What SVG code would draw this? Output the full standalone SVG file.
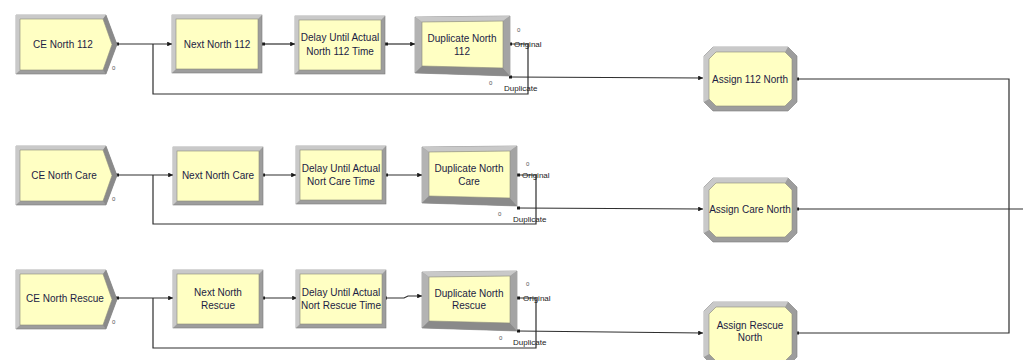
<svg xmlns="http://www.w3.org/2000/svg" xmlns:xlink="http://www.w3.org/1999/xlink" width="1023" height="360" viewBox="0 0 1023 360">
<style>
.t{font-family:"Liberation Sans",Arial,sans-serif;font-size:10px;fill:#1c1c44;text-anchor:middle}
.s{font-family:"Liberation Sans",Arial,sans-serif;font-size:8px;fill:#222}
.c{font-family:"Liberation Sans",Arial,sans-serif;font-size:6px;fill:#555}
.ln{fill:none;stroke:#2e2e2e;stroke-width:1.2}
.pt{fill:#1a1a1a}
.fr{fill:#9d9d9d;stroke:#7c7c7c;stroke-width:0.6}
.lt{fill:#c9c9c9}
.dk{fill:#8a8a8a}
.in{fill:#ffffc3;stroke:#8a8a7a;stroke-width:0.6}
</style>
<defs>
<marker id="ar" viewBox="0 0 6 6" refX="6" refY="3" markerWidth="4" markerHeight="4" orient="auto">
<path d="M0,0 L6,3 L0,6 z" fill="#1a1a1a"/>
</marker>
<g id="create">
<polygon class="fr" points="0,0 90,0 101,29.5 90,59 0,59"/>
<polygon class="lt" points="0,0 90,0 87,4 4,4 4,55 0,59"/>
<polygon class="dk" points="90,0 101,29.5 90,59 87,55 96,29.5 87,4"/>
<polygon class="in" points="4,4 87,4 96,29.5 87,55 4,55"/>
</g>
<g id="proc">
<rect class="fr" x="0" y="0" width="90" height="58"/>
<polygon class="lt" points="0,0 90,0 86,4 4,4 4,54 0,58"/>
<rect class="in" x="4" y="4" width="82" height="50"/>
</g>
<g id="sep">
<polygon class="fr" points="0,1 95,0 95,60 0,57"/>
<polygon class="lt" points="0,1 95,0 88,5 7,6"/>
<polygon fill="#b3b3b3" points="0,1 7,6 7,50 0,57"/>
<polygon class="dk" points="0,57 95,60 88,52 7,50"/>
<polygon fill="#a4a4a4" points="95,0 95,60 88,52 88,5"/>
<polygon class="in" points="7,6 88,5 88,52 7,50"/>
</g>
<g id="assign">
<polygon class="fr" points="9,0 84,0 93,9 93,55 84,64 9,64 0,55 0,9"/>
<polygon class="lt" points="9,0 84,0 81,5 12,5 5,12 5,52 0,55 0,9"/>
<polygon class="in" points="12,5 81,5 88,12 88,52 81,59 12,59 5,52 5,12"/>
</g>
</defs>
<rect width="1023" height="360" fill="#ffffff"/>

<g id="connectors">
<!-- row 1 -->
<polyline class="ln" points="117,44 172,44" marker-end="url(#ar)"/>
<polyline class="ln" points="263,44 295,44" marker-end="url(#ar)"/>
<polyline class="ln" points="386,44 415,44" marker-end="url(#ar)"/>
<polyline class="ln" points="510,44 528,44 528,94 153,94 153,44"/>
<polyline class="ln" points="510,77 703,78" marker-end="url(#ar)"/>
<polyline class="ln" points="797,79 1009,79 1009,333 797,333"/>
<!-- row 2 -->
<polyline class="ln" points="117,175 173,175" marker-end="url(#ar)"/>
<polyline class="ln" points="263,175 296,175" marker-end="url(#ar)"/>
<polyline class="ln" points="386,175 422,175" marker-end="url(#ar)"/>
<polyline class="ln" points="518,175 536,175 536,224 153,224 153,175"/>
<polyline class="ln" points="518,208 703,209" marker-end="url(#ar)"/>
<polyline class="ln" points="797,209 1023,209"/>
<!-- row 3 -->
<polyline class="ln" points="117,298 173,298" marker-end="url(#ar)"/>
<polyline class="ln" points="263,298 297,298" marker-end="url(#ar)"/>
<polyline class="ln" points="385,298 404,298 408,296 422,296" marker-end="url(#ar)"/>
<polyline class="ln" points="518,298 536,298 536,348 153,348 153,298"/>
<polyline class="ln" points="518,331 703,333" marker-end="url(#ar)"/>
<!-- exit points -->
<rect class="pt" x="116" y="42.5" width="3" height="3"/>
<rect class="pt" x="262" y="42.5" width="3" height="3"/>
<rect class="pt" x="385" y="42.5" width="3" height="3"/>
<rect class="pt" x="509" y="42.5" width="3" height="3"/>
<rect class="pt" x="509" y="75.5" width="3" height="3"/>
<rect class="pt" x="796" y="77.5" width="3" height="3"/>
<rect class="pt" x="116" y="173.5" width="3" height="3"/>
<rect class="pt" x="262" y="173.5" width="3" height="3"/>
<rect class="pt" x="385" y="173.5" width="3" height="3"/>
<rect class="pt" x="517" y="173.5" width="3" height="3"/>
<rect class="pt" x="517" y="206.5" width="3" height="3"/>
<rect class="pt" x="796" y="207.5" width="3" height="3"/>
<rect class="pt" x="116" y="296.5" width="3" height="3"/>
<rect class="pt" x="262" y="296.5" width="3" height="3"/>
<rect class="pt" x="384" y="296.5" width="3" height="3"/>
<rect class="pt" x="517" y="296.5" width="3" height="3"/>
<rect class="pt" x="517" y="329.5" width="3" height="3"/>
<rect class="pt" x="796" y="331.5" width="3" height="3"/>
</g>

<g id="labels">
<text class="s" x="514" y="47">Original</text>
<text class="s" x="504" y="91">Duplicate</text>
<text class="s" x="522" y="178">Original</text>
<text class="s" x="513" y="222">Duplicate</text>
<text class="s" x="523" y="301">Original</text>
<text class="s" x="513" y="345">Duplicate</text>
<text class="c" x="112" y="70">0</text>
<text class="c" x="517" y="32">0</text>
<text class="c" x="489" y="85">0</text>
<text class="c" x="112" y="201">0</text>
<text class="c" x="526" y="166">0</text>
<text class="c" x="498" y="216">0</text>
<text class="c" x="112" y="324">0</text>
<text class="c" x="526" y="286">0</text>
<text class="c" x="499" y="340">0</text>
</g>

<!-- row 1 nodes -->
<g id="ce112"><use xlink:href="#create" x="16" y="15"/><text class="t" x="63" y="47.5">CE North 112</text></g>
<g id="next112"><use xlink:href="#proc" x="172" y="15"/><text class="t" x="217" y="47.5">Next North 112</text></g>
<g id="delay112"><use xlink:href="#proc" x="295" y="16"/><text class="t" x="340" y="41">Delay Until Actual</text><text class="t" x="340" y="54.5">North 112 Time</text></g>
<g id="dup112"><use xlink:href="#sep" x="415" y="16"/><text class="t" x="462" y="41.5">Duplicate North</text><text class="t" x="462" y="54.5">112</text></g>
<g id="assign112"><use xlink:href="#assign" x="704" y="47"/><text class="t" x="750" y="82.5">Assign 112 North</text></g>

<!-- row 2 nodes -->
<g id="cecare"><use xlink:href="#create" x="16" y="146"/><text class="t" x="64" y="178.5">CE North Care</text></g>
<g id="nextcare"><use xlink:href="#proc" x="173" y="147"/><text class="t" x="218" y="178.5">Next North Care</text></g>
<g id="delaycare"><use xlink:href="#proc" x="296" y="146"/><text class="t" x="341" y="171.5">Delay Until Actual</text><text class="t" x="341" y="185">Nort Care Time</text></g>
<g id="dupcare"><use xlink:href="#sep" x="422" y="146"/><text class="t" x="469" y="171.5">Duplicate North</text><text class="t" x="469" y="185">Care</text></g>
<g id="assigncare"><use xlink:href="#assign" x="704" y="178"/><text class="t" x="750" y="212.5">Assign Care North</text></g>

<!-- row 3 nodes -->
<g id="cerescue"><use xlink:href="#create" x="16" y="270"/><text class="t" x="65" y="301.5">CE North Rescue</text></g>
<g id="nextrescue"><use xlink:href="#proc" x="173" y="270"/><text class="t" x="218" y="295.5">Next North</text><text class="t" x="218" y="309">Rescue</text></g>
<g id="delayrescue"><use xlink:href="#proc" x="296" y="270"/><text class="t" x="341" y="295.5">Delay Until Actual</text><text class="t" x="341" y="309">Nort Rescue Time</text></g>
<g id="duprescue"><use xlink:href="#sep" x="422" y="271"/><text class="t" x="469" y="296.5">Duplicate North</text><text class="t" x="469" y="309">Rescue</text></g>
<g id="assignrescue"><use xlink:href="#assign" x="704" y="302"/><text class="t" x="750" y="329">Assign Rescue</text><text class="t" x="750" y="341">North</text></g>
</svg>
